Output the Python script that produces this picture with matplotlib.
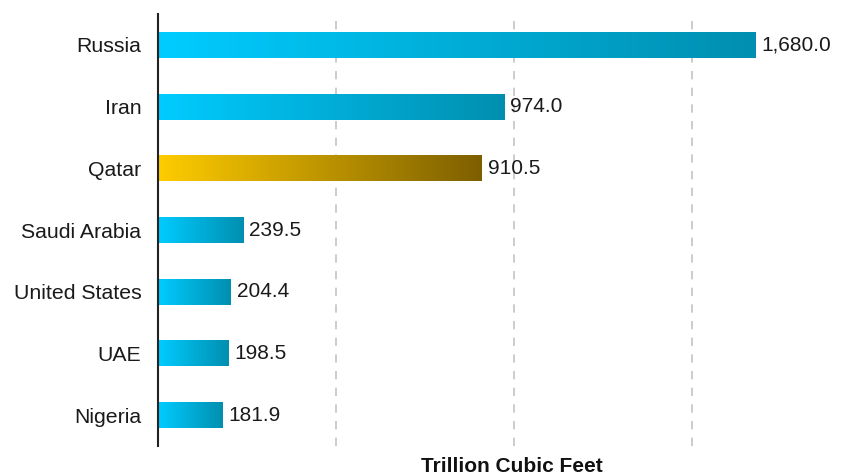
import numpy as np
import matplotlib.pyplot as plt
from matplotlib.colors import LinearSegmentedColormap

plt.rcParams['font.family'] = ['Liberation Sans', 'DejaVu Sans']

countries = ['Russia', 'Iran', 'Qatar', 'Saudi Arabia', 'United States', 'UAE', 'Nigeria']
reserves = [1680.0, 974.0, 910.5, 239.5, 204.4, 198.5, 181.9]
highlight = 'Qatar'

blue = LinearSegmentedColormap.from_list('blue', ['#00ccff', '#008fb0'])
gold = LinearSegmentedColormap.from_list('gold', ['#ffcc00', '#7d5f00'])

fig = plt.figure(figsize=(8.58, 4.76), dpi=100)
ax = fig.add_axes([158 / 858, 30 / 476, 700 / 858, 432 / 476])

bar_h = 0.42
grad = np.linspace(0, 1, 256).reshape(1, -1)
for i, (name, val) in enumerate(zip(countries, reserves)):
    cmap = gold if name == highlight else blue
    ax.imshow(grad, cmap=cmap, aspect='auto', interpolation='bilinear',
              extent=(0, val, i + bar_h / 2, i - bar_h / 2), zorder=2)
    ax.text(val + 17, i, f'{val:,.1f}', va='center', ha='left', fontsize=15, color='#1a1a1a')

ax.set_xlim(0, 700 / 0.3557)
ax.set_ylim(len(countries) - 0.5, -0.5)
ax.set_yticks(range(len(countries)))
ax.set_yticklabels(countries, fontsize=15.3, color='#1a1a1a')
ax.set_xticks([500, 1000, 1500])
ax.set_xticklabels([])
ax.tick_params(length=0, pad=12)
ax.grid(axis='x', color='#c4c4c4', linestyle=(0, (5, 5)), linewidth=1.2, zorder=0)

for s in ['top', 'right', 'bottom']:
    ax.spines[s].set_visible(False)
ax.spines['left'].set_color('#222222')
ax.spines['left'].set_linewidth(1.5)
ax.spines['left'].set_zorder(3)

fig.text(512 / 858, 1 - 466 / 476, 'Trillion Cubic Feet', ha='center', va='center',
         fontsize=15, fontweight='bold', color='#111111')

fig.savefig('out.png', dpi=100)
